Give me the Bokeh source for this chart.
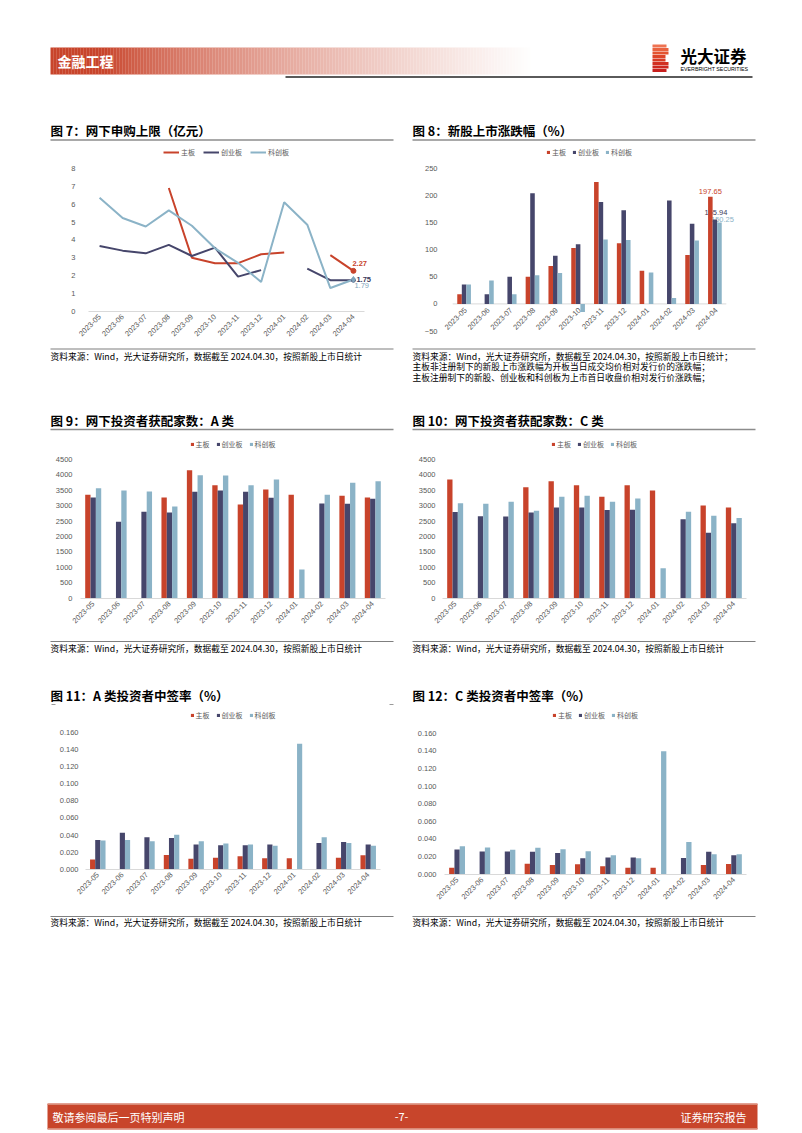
import math
import numpy as np
from bokeh.plotting import figure
from bokeh.models import Range1d, FactorRange, FixedTicker, NumeralTickFormatter
from bokeh.transform import dodge
from bokeh.layouts import column, row
from bokeh.core.properties import value
from bokeh.embed import file_html
from bokeh.resources import INLINE

nan = float("nan")

# ---------------- data ----------------
months = ["2023-05", "2023-06", "2023-07", "2023-08", "2023-09", "2023-10",
          "2023-11", "2023-12", "2024-01", "2024-02", "2024-03", "2024-04"]
series_names = ["主板", "创业板", "科创板"]

# 图7 网下申购上限（亿元）
limit_main = [nan, nan, nan, 6.90, 3.00, 2.70, 2.70, 3.20, 3.30, nan, 3.15, 2.27]
limit_gem = [3.66, 3.40, 3.25, 3.72, 3.10, 3.57, 1.95, 2.31, nan, 2.40, 1.75, 1.75]
limit_star = [6.35, 5.22, 4.75, 5.65, 4.79, 3.53, 2.72, 1.65, 6.10, 4.85, 1.31, 1.79]

# 图8 新股上市涨跌幅（%）
ret_main = [18, nan, nan, 50, 70, 103, 225, 112, 61, nan, 90, 197.65]
ret_gem = [36, 18, 50, 204, 89, 110, 188, 173, nan, 191, 148, 155.94]
ret_star = [36, 43, 18, 53, 57, -15, 119, 118, 58, 11, 117, 150.25]

# 图9 网下投资者获配家数：A 类
a_main = [3350, nan, nan, 3265, 4150, 3660, 3040, 3520, 3350, nan, 3320, 3265]
a_gem = [3265, 2480, 2800, 2775, 3450, 3495, 3450, 3255, nan, 3070, 3060, 3220]
a_star = [3560, 3495, 3460, 2970, 3985, 3975, 3660, 3845, 930, 3350, 3745, 3790]

# 图10 网下投资者获配家数：C 类
c_main = [3845, nan, nan, 3595, 3790, 3660, 3290, 3660, 3495, nan, 3005, 2940]
c_gem = [2795, 2655, 2645, 2775, 2940, 2940, 2860, 2870, nan, 2555, 2120, 2425]
c_star = [3080, 3060, 3125, 2830, 3290, 3320, 3125, 3230, 970, 2805, 2675, 2600]

# 图11 A 类投资者中签率（%）
ra_main = [0.0114, nan, nan, 0.0169, 0.0125, 0.0137, 0.0153, 0.0129, 0.0129, nan, 0.0137, 0.0165]
ra_gem = [0.0341, 0.0427, 0.0373, 0.0365, 0.0290, 0.0282, 0.0282, 0.0290, nan, 0.0306, 0.0318, 0.0290]
ra_star = [0.0337, 0.0341, 0.0329, 0.0404, 0.0329, 0.0302, 0.0290, 0.0275, 0.1463, 0.0373, 0.0306, 0.0275]

# 图12 C 类投资者中签率（%）
rc_main = [0.0073, nan, nan, 0.0119, 0.0103, 0.0111, 0.0088, 0.0073, 0.0073, nan, 0.0103, 0.0115]
rc_gem = [0.0279, 0.0256, 0.0256, 0.0253, 0.0241, 0.0180, 0.0188, 0.0188, nan, 0.0184, 0.0253, 0.0214]
rc_star = [0.0318, 0.0302, 0.0276, 0.0299, 0.0283, 0.0260, 0.0214, 0.0180, 0.1397, 0.0364, 0.0226, 0.0226]

ticks7 = [0, 1, 2, 3, 4, 5, 6, 7, 8]
ticks8 = [-50, 0, 50, 100, 150, 200, 250]
ticks_cnt = [0, 500, 1000, 1500, 2000, 2500, 3000, 3500, 4000, 4500]
ticks_rate = [0.0, 0.02, 0.04, 0.06, 0.08, 0.10, 0.12, 0.14, 0.16]

titles = ["图 7：网下申购上限（亿元）", "图 8：新股上市涨跌幅（%）",
          "图 9：网下投资者获配家数：A 类", "图 10：网下投资者获配家数：C 类",
          "图 11：A 类投资者中签率（%）", "图 12：C 类投资者中签率（%）"]
src = "资料来源：Wind，光大证券研究所，数据截至 2024.04.30，按照新股上市日统计"
src8 = ["资料来源：Wind，光大证券研究所，数据截至 2024.04.30，按照新股上市日统计；",
        "主板非注册制下的新股上市涨跌幅为开板当日成交均价相对发行价的涨跌幅；",
        "主板注册制下的新股、创业板和科创板为上市首日收盘价相对发行价涨跌幅；"]

# ---------------- style ----------------
RED = "#C8432B"
NAVY = "#46466B"
LBLUE = "#8BB3C7"
AXIS = "#D9D9D9"
CJK = "Noto Sans CJK SC"
NUM = "Liberation Sans"
GRAYTXT = "#595959"
SRC_SIZE = "8.75px"
W = 786


def deco(top, bottom):
    f = figure(width=W, height=bottom - top, x_range=Range1d(0, W),
               y_range=Range1d(bottom, top), output_backend="svg",
               toolbar_location=None, min_border=0,
               x_axis_location=None, y_axis_location=None)
    f.outline_line_color = None
    f.grid.visible = False
    f.background_fill_color = "white"
    f.border_fill_color = "white"
    return f


def txt(f, x, y, s, size, color="#000000", bold=False, align="left", font=CJK):
    f.text(x=[x], y=[y], text=[s], text_font=value(font), text_font_size=size,
           text_color=color, text_font_style="bold" if bold else "normal",
           text_align=align, text_baseline="middle")


def hline(f, x0, x1, y, color="#8C8C8C", w=1.5):
    f.segment(x0=[x0], y0=[y], x1=[x1], y1=[y], line_color=color, line_width=w)


def make_chart(fig_x0, row_top, row_bot, cx0, cx1, fbot, anchors, ticks,
               ystand=5, fmt=None, pad_px=0.0, xaxis=True):
    """cx0/cx1: pixel extent of the 12 categories; pad_px: extra frame on each side."""
    (va, pa), (vb, pb) = anchors
    per_px = (vb - va) / (pa - pb)
    ystart = va - (fbot - pa) * per_px
    yend = va + (pa - row_top) * per_px
    cat_w = (cx1 - cx0) / len(months)
    pad_units = pad_px / cat_w
    xr = FactorRange(*months, range_padding=2 * pad_units, range_padding_units="absolute")
    fx0, fx1 = cx0 - pad_px, cx1 + pad_px
    p = figure(width=393, height=row_bot - row_top, x_range=xr,
               y_range=Range1d(ystart, yend),
               output_backend="svg", toolbar_location=None,
               x_axis_location="below" if xaxis else None,
               min_border_left=int(round(fx0 - fig_x0)),
               min_border_right=int(round(fig_x0 + 393 - fx1)),
               min_border_top=0,
               min_border_bottom=int(round(row_bot - fbot)))
    p.outline_line_color = None
    p.grid.visible = False
    p.background_fill_color = "white"
    p.border_fill_color = "white"
    if xaxis:
        ax = p.xaxis[0]
        ax.axis_line_color = AXIS
        ax.axis_line_width = 1
        ax.bounds = (0, len(months))
        ax.major_tick_line_color = None
        ax.minor_tick_line_color = None
        ax.major_tick_out = 0
        ax.major_label_orientation = math.pi / 4
        ax.major_label_text_font = NUM
        ax.major_label_text_font_size = "7.5px"
        ax.major_label_text_color = GRAYTXT
        ax.major_label_standoff = 4
    ay = p.yaxis[0]
    ay.axis_line_color = None
    ay.major_tick_line_color = None
    ay.minor_tick_line_color = None
    ay.major_tick_out = 0
    ay.ticker = FixedTicker(ticks=ticks)
    ay.major_label_text_font = NUM
    ay.major_label_text_font_size = "7.5px"
    ay.major_label_text_color = GRAYTXT
    ay.major_label_standoff = ystand
    if fmt:
        ay.formatter = NumeralTickFormatter(format=fmt)
    return p


def style_legend(p, gw, gh, spacing):
    lg = p.legend[0]
    lg.location = "top_center"
    lg.orientation = "horizontal"
    lg.border_line_color = None
    lg.background_fill_alpha = 0
    lg.padding = 0
    lg.margin = 2
    lg.spacing = spacing
    lg.glyph_width = gw
    lg.glyph_height = gh
    lg.label_height = 9
    lg.label_width = 10
    lg.label_standoff = 2
    lg.label_text_font = CJK
    lg.label_text_font_size = "7px"
    lg.label_text_color = GRAYTXT


def bars(p, m, g, s, w=0.21):
    src_ = dict(x=months, m=np.array(m, dtype=float), g=np.array(g, dtype=float),
                s=np.array(s, dtype=float))
    p.vbar(x=dodge("x", -w, range=p.x_range), top="m", bottom=0, width=w, source=src_,
           fill_color=RED, line_color=None, legend_label=series_names[0])
    p.vbar(x=dodge("x", 0, range=p.x_range), top="g", bottom=0, width=w, source=src_,
           fill_color=NAVY, line_color=None, legend_label=series_names[1])
    p.vbar(x=dodge("x", w, range=p.x_range), top="s", bottom=0, width=w, source=src_,
           fill_color=LBLUE, line_color=None, legend_label=series_names[2])
    style_legend(p, 4, 4, 6)


LX, RX = 0, 393

# ---------------- row 1 ----------------
c7 = make_chart(LX, 145, 346, 82, 370, 311, ((0, 311), (8, 167.8)), ticks7, ystand=1,
                pad_px=6)
c7.line(months, np.array(limit_main, dtype=float), line_color=RED, line_width=2,
        legend_label=series_names[0])
c7.line(months, np.array(limit_gem, dtype=float), line_color=NAVY, line_width=2,
        legend_label=series_names[1])
c7.line(months, np.array(limit_star, dtype=float), line_color=LBLUE, line_width=2,
        legend_label=series_names[2])
style_legend(c7, 16, 8, 8)
c7.scatter([months[-1]], [limit_main[-1]], size=5, color=RED)
c7.scatter([months[-1]], [limit_gem[-1]], size=4, color=NAVY)
c7.scatter([months[-1]], [limit_star[-1]], size=6, color="#7FA6BD", marker="diamond")
for val, col, dx, dy, st in ((limit_main[-1], RED, -1, -7, "bold"),
                             (limit_gem[-1], "#3A3A5A", 3, -1, "bold"),
                             (limit_star[-1], "#7FA6BD", 1, 6, "normal")):
    c7.text(x=[months[-1]], y=[val], text=[f"{val:.2f}"], x_offset=dx, y_offset=dy,
            text_font=value(NUM), text_font_size="7.5px", text_font_style=st,
            text_color=col, text_align="left", text_baseline="middle")

# 图8: no bottom axis; category labels hang from the zero line
c8 = make_chart(RX, 145, 346, 445, 733, 346, ((-50, 330.5), (250, 167.9)), ticks8, ystand=0,
                pad_px=8, xaxis=False)
zero_line = dict(a=[months[0]], b=[months[-1]], y=[0])
c8.segment(x0=dodge("a", -0.5, range=c8.x_range), x1=dodge("b", 0.5, range=c8.x_range),
           y0="y", y1="y", source=zero_line, line_color=AXIS, line_width=1)
c8.text(x=dodge("x", 0.02, range=c8.x_range), y="y", text="x",
        source=dict(x=months, y=[0] * len(months)), angle=math.pi / 4,
        text_font=value(NUM), text_font_size="7.5px", text_color=GRAYTXT,
        text_align="right", text_baseline="middle", x_offset=1, y_offset=5)
for off, val, col, dx, dy in ((-0.2, ret_main[-1], RED, 0, -5.5),
                              (0, ret_gem[-1], "#3A3A5A", 1, -7),
                              (0.2, ret_star[-1], LBLUE, 3, -3)):
    c8.text(x=dodge("x", off, range=c8.x_range), y="y",
            source=dict(x=[months[-1]], y=[val], t=[f"{val:.2f}"]), text="t",
            text_font=value(NUM), text_font_size="7.5px",
            text_color=col, text_align="center", text_baseline="middle",
            x_offset=dx, y_offset=dy)
bars(c8, ret_main, ret_gem, ret_star, w=0.2)

# ---------------- row 2 ----------------
c9 = make_chart(LX, 437, 638, 80, 385, 598, ((0, 597.6), (4500, 458.9)), ticks_cnt, ystand=8)
bars(c9, a_main, a_gem, a_star)
c10 = make_chart(RX, 437, 638, 442, 746, 598, ((0, 597.6), (4500, 458.9)), ticks_cnt, ystand=7)
bars(c10, c_main, c_gem, c_star)

# ---------------- row 3 ----------------
c11 = make_chart(LX, 708, 912, 85, 380, 869, ((0, 868.9), (0.16, 731.5)), ticks_rate, ystand=7,
                 fmt="0.000")
bars(c11, ra_main, ra_gem, ra_star)
c12 = make_chart(RX, 708, 912, 444, 746, 874, ((0, 873.6), (0.16, 732.9)), ticks_rate, ystand=8,
                 fmt="0.000")
bars(c12, rc_main, rc_gem, rc_star)

# ---------------- decorations ----------------
d_top = deco(0, 145)
xs = np.arange(50, 532, 3)
cols = []
for x in xs:
    r = min(max((x - 105) / 425.0, 0.0), 1.0) ** 0.7
    c = (int(200 + (255 - 200) * r), int(68 + (255 - 68) * r), int(43 + (255 - 43) * r))
    cols.append("#%02x%02x%02x" % c)
d_top.quad(left=xs, right=xs + 3.2, top=47, bottom=74, fill_color=cols, line_color=None)
txt(d_top, 57, 60.5, "金融工程", "14px", color="white", bold=True)
hline(d_top, 285, 752, 76.5, color="#5A5A5A", w=2)
sy = np.array([45.5, 49, 52.5, 56, 59.5, 63, 66.5, 70])
sr = np.array([666, 668, 668, 665, 665, 668, 668, 666])
scol = ["#EE7352", "#E9623F", "#E3532F", "#DD4427", "#D83A24", "#D23022", "#CD2820", "#C8201E"]
d_top.quad(left=652, right=sr, top=sy - 1.4, bottom=sy + 1.4, fill_color=scol, line_color=None)
txt(d_top, 680, 55.5, "光大证券", "16.5px", bold=True)
txt(d_top, 680, 68.5, "EVERBRIGHT SECURITIES", "5.3px", font=NUM)
txt(d_top, 50, 130, titles[0], "12.5px", bold=True)
txt(d_top, 412, 130, titles[1], "12.5px", bold=True)
hline(d_top, 50, 393, 139.5)
hline(d_top, 412, 755, 139.5)

d_mid1 = deco(346, 437)
hline(d_mid1, 50, 393, 348.5, color="#7F7F7F", w=1.2)
hline(d_mid1, 412, 755, 348.5, color="#7F7F7F", w=1.2)
txt(d_mid1, 50, 355.5, src, SRC_SIZE)
for i, line in enumerate(src8):
    txt(d_mid1, 412, 355.5 + i * 10.5, line, SRC_SIZE)
txt(d_mid1, 50, 420, titles[2], "12.5px", bold=True)
txt(d_mid1, 412, 420, titles[3], "12.5px", bold=True)
hline(d_mid1, 50, 393, 429)
hline(d_mid1, 412, 755, 429)

d_mid2 = deco(638, 708)
hline(d_mid2, 50, 393, 641, color="#7F7F7F", w=1.2)
hline(d_mid2, 412, 755, 641, color="#7F7F7F", w=1.2)
txt(d_mid2, 50, 647.5, src, SRC_SIZE)
txt(d_mid2, 412, 647.5, src, SRC_SIZE)
txt(d_mid2, 50, 695, titles[4], "12.5px", bold=True)
txt(d_mid2, 412, 695, titles[5], "12.5px", bold=True)
hline(d_mid2, 51, 55, 704, color="#9A9A9A", w=1)
hline(d_mid2, 389, 393, 704, color="#9A9A9A", w=1)

d_bot = deco(912, 1131)
hline(d_bot, 50, 393, 916, color="#7F7F7F", w=1.2)
hline(d_bot, 412, 755, 916, color="#7F7F7F", w=1.2)
txt(d_bot, 50, 922, src, SRC_SIZE)
txt(d_bot, 412, 922, src, SRC_SIZE)
d_bot.quad(left=[47], right=[757], top=[1103], bottom=[1129], fill_color="#C8452B", line_color=None)
hline(d_bot, 47, 757, 1104, color="#D98A76", w=1)
hline(d_bot, 47, 757, 1128, color="#D98A76", w=1)
txt(d_bot, 52, 1116, "敬请参阅最后一页特别声明", "11px", color="white")
txt(d_bot, 401, 1116, "-7-", "11px", color="white", align="center")
txt(d_bot, 746, 1116, "证券研究报告", "11px", color="white", align="right")

# each chart wrapped in its own column so that row siblings do not align their frames
layout = column(d_top,
                row(column(c7), column(c8)),
                d_mid1,
                row(column(c9), column(c10)),
                d_mid2,
                row(column(c11), column(c12)),
                d_bot,
                spacing=0)

open("out.html", "w").write(file_html(layout, INLINE))
